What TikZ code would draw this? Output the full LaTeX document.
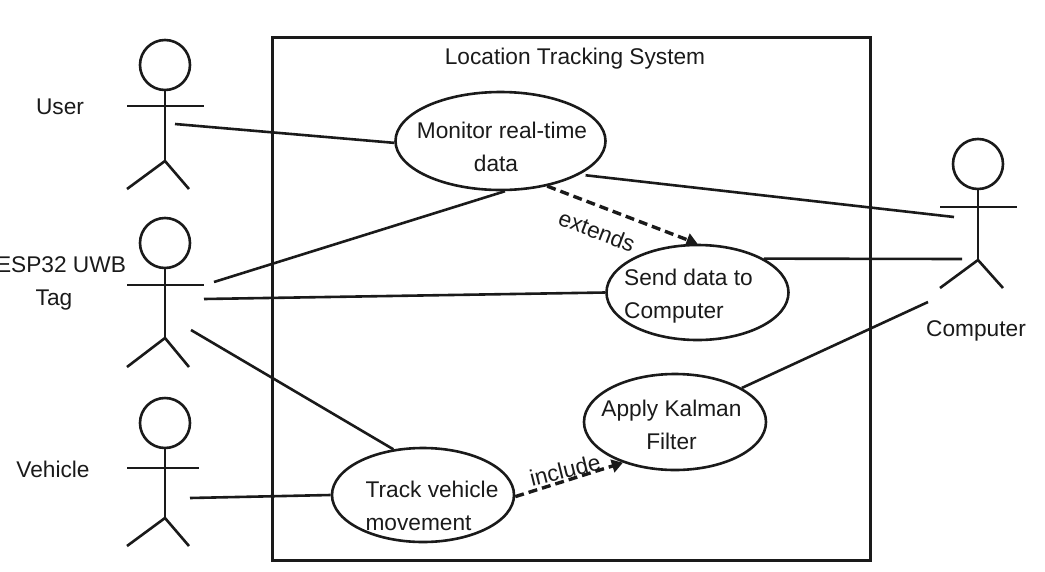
\documentclass[tikz,border=0pt]{standalone}
\usepackage{fontspec}
\setmainfont{Liberation Sans}
\usetikzlibrary{arrows.meta,shapes.geometric}
\definecolor{ink}{HTML}{1A1A1A}
\tikzset{
  usecase/.style={draw=ink, ellipse, line width=2.6pt, inner sep=0pt},
  head/.style={draw=ink, circle, line width=2.6pt, inner sep=0pt, minimum size=50pt},
  lbl/.style={text=ink, font=\fontsize{22.7}{33}\selectfont, inner sep=0pt},
  line/.style={draw=ink, line width=2.6pt},
  dep/.style={draw=ink, line width=3.4pt, dash pattern=on 9pt off 5pt, -{Triangle[length=11pt,width=13pt]}},
}
\begin{document}
\begin{tikzpicture}[x=1pt,y=-1pt]
\useasboundingbox (0,0) rectangle (1045,571);
\node[draw=ink, line width=3pt, minimum width=598pt, minimum height=523pt, inner sep=0pt] (P_sys) at (571.5,299) {};
\node[lbl] (L_sys) at (575,59) {Location Tracking System};
% use cases
\node[usecase, minimum width=210pt, minimum height=98pt] (C_monitor) at (500.5,141) {};
\node[usecase, minimum width=182pt, minimum height=95pt] (C_send) at (697.5,292.5) {};
\node[usecase, minimum width=182pt, minimum height=96pt] (C_apply) at (675,422) {};
\node[usecase, minimum width=182pt, minimum height=94pt] (C_track) at (423,495) {};
\node[lbl, align=center] (L_monitor) at (502,146.5) {Monitor real-time\\data\kern12pt};
\node[lbl, align=left] (L_send) at (688.5,296.5) {Send data to\\Computer};
\node[lbl, align=center] (L_apply) at (671.5,425) {Apply Kalman\\Filter};
\node[lbl, align=left] (L_track) at (432,506) {Track vehicle\\movement};
% actor user
\node[head] (U_head) at (165,65) {};
\coordinate (U_hip) at (165,161);
\coordinate (U_arml) at (127,106);
\coordinate (U_armr) at (204,106);
\coordinate (U_legl) at (127,189);
\coordinate (U_legr) at (189,189);
\draw[line] (U_head.south) -- (U_hip);
\draw[line] (U_arml) -- (U_armr);
\draw[line] (U_legl) -- (U_hip) -- (U_legr);
\node[lbl] (L_user) at (60,107) {User};
% actor tag
\node[head] (T_head) at (165,243) {};
\coordinate (T_hip) at (165,338);
\coordinate (T_arml) at (127,285);
\coordinate (T_armr) at (204,285);
\coordinate (T_legl) at (127,367);
\coordinate (T_legr) at (189,367);
\draw[line] (T_head.south) -- (T_hip);
\draw[line] (T_arml) -- (T_armr);
\draw[line] (T_legl) -- (T_hip) -- (T_legr);
\node[lbl, align=center] (L_tag) at (61,283.5) {ESP32 UWB\\Tag\kern14pt};
% actor vehicle
\node[head] (V_head) at (165,423) {};
\coordinate (V_hip) at (165,518);
\coordinate (V_arml) at (127,468);
\coordinate (V_armr) at (199,468);
\coordinate (V_legl) at (127,546);
\coordinate (V_legr) at (189,546);
\draw[line] (V_head.south) -- (V_hip);
\draw[line] (V_arml) -- (V_armr);
\draw[line] (V_legl) -- (V_hip) -- (V_legr);
\node[lbl] (L_vehicle) at (53,469) {Vehicle};
% actor computer
\node[head] (K_head) at (978,164) {};
\coordinate (K_hip) at (978,260);
\coordinate (K_arml) at (940,207);
\coordinate (K_armr) at (1017,207);
\coordinate (K_legl) at (940,288);
\coordinate (K_legr) at (1003,288);
\draw[line] (K_head.south) -- (K_hip);
\draw[line] (K_arml) -- (K_armr);
\draw[line] (K_legl) -- (K_hip) -- (K_legr);
\node[lbl] (L_computer) at (976,330.5) {Computer};
% free ends near the actors
\coordinate (U_out) at (175,124);
\coordinate (T_out1) at (214,282);
\coordinate (T_out2) at (204,299);
\coordinate (T_out3) at (191,330);
\coordinate (V_out) at (190,498);
\coordinate (K_in1) at (954,217);
\coordinate (K_in2) at (962,259);
\coordinate (K_in3) at (928,302);
% connectors
\draw[line] (U_out) -- (C_monitor.181);
\draw[line] (T_out1) -- (C_monitor.275);
\draw[line] (T_out2) -- (C_send.180);
\draw[line] (T_out3) -- (C_track.123);
\draw[line] (V_out) -- (C_track.180);
\draw[line, shorten <=6pt] (C_monitor.337) -- (K_in1);
\draw[line] (C_send.27) -- (K_in2);
\draw[line] (C_apply.27) -- (K_in3);
\draw[dep] (C_monitor.316) -- (C_send.90);
\draw[dep] (C_track.-1) -- (C_apply.218);
\node[lbl, rotate=-21] (L_extends) at (597,231) {extends};
\node[lbl, rotate=14] (L_include) at (565,470) {include};
\end{tikzpicture}
\end{document}
